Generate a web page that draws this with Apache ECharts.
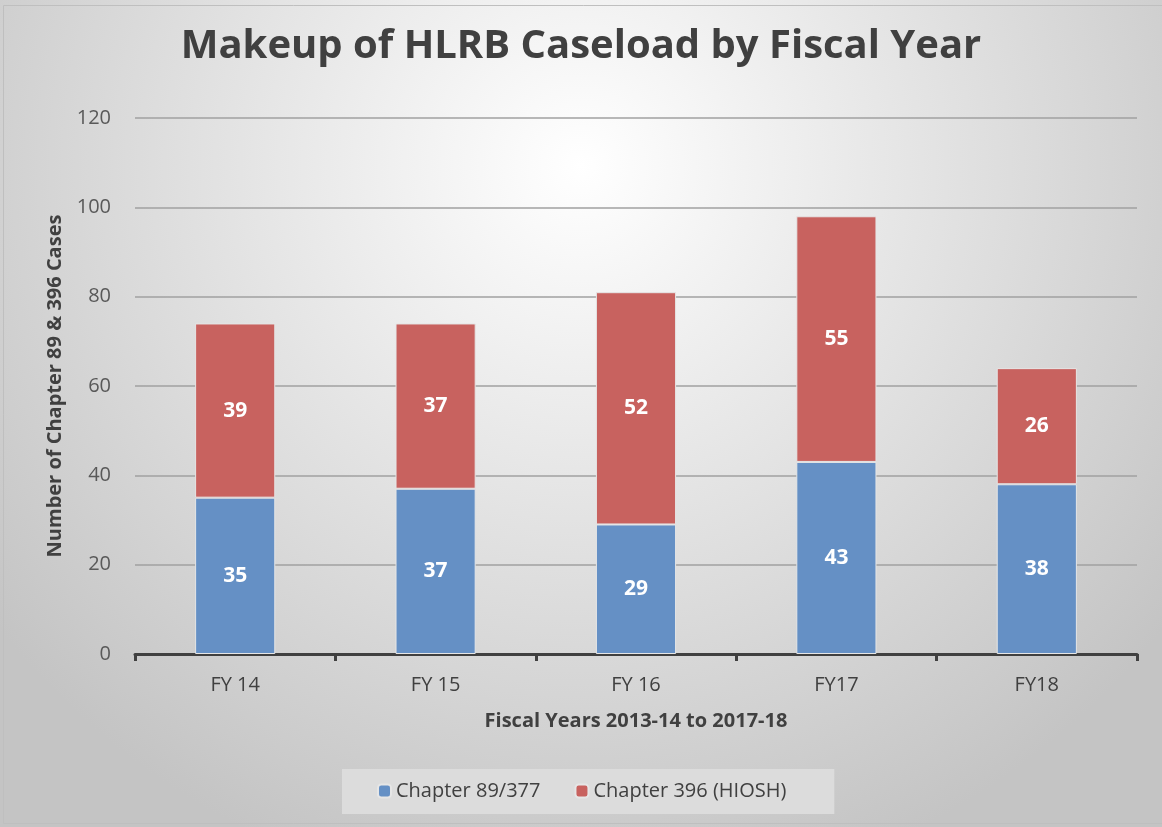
<!DOCTYPE html>
<html>
<head>
<meta charset="utf-8">
<script src="https://cdn.jsdelivr.net/npm/echarts@6/dist/echarts.min.js"></script>
<style>
html,body{margin:0;padding:0;background:#fff;}
#c{width:1162px;height:827px;}
</style>
</head>
<body>
<div id="c"></div>
<script>
var categories = ['FY 14', 'FY 15', 'FY 16', 'FY17', 'FY18'];
var chapter89 = [35, 37, 29, 43, 38];
var chapter396 = [39, 37, 52, 55, 26];
var yTicks = [0, 20, 40, 60, 80, 100, 120];

var chart = echarts.init(document.getElementById('c'));
var font = '"Open Sans", "DejaVu Sans", sans-serif';
chart.setOption({
  backgroundColor: {
    type: 'radial', x: 0.5, y: 0.2, r: 0.9,
    colorStops: [
      {offset: 0, color: '#ffffff'},
      {offset: 1, color: '#c4c4c4'}
    ]
  },
  title: {
    text: 'Makeup of HLRB Caseload by Fiscal Year',
    left: 'center',
    top: 22,
    textStyle: {fontFamily: font, fontSize: 40, fontWeight: 'bold', color: '#404040'}
  },
  grid: {left: 135, right: 25, top: 118, bottom: 173, containLabel: false},
  legend: {
    data: ['Chapter 89/377', 'Chapter 396 (HIOSH)'],
    left: 342, top: 769,
    backgroundColor: '#dcdcdc',
    padding: [12, 48, 13, 35],
    itemWidth: 13, itemHeight: 13, itemGap: 34,
    textStyle: {fontFamily: font, fontSize: 20, color: '#404040'}
  },
  xAxis: {
    type: 'category',
    data: categories,
    name: 'Fiscal Years 2013-14 to 2017-18',
    nameLocation: 'middle',
    nameGap: 57,
    nameTextStyle: {fontFamily: font, fontSize: 20, fontWeight: 'bold', color: '#404040'},
    axisLine: {lineStyle: {color: '#404040', width: 3}},
    axisTick: {show: true, length: 7, lineStyle: {color: '#404040', width: 3}},
    axisLabel: {fontFamily: font, fontSize: 20, color: '#404040', margin: 21}
  },
  yAxis: {
    type: 'value',
    min: yTicks[0], max: yTicks[yTicks.length - 1], interval: 20,
    name: 'Number of Chapter 89 & 396 Cases',
    nameLocation: 'middle',
    nameGap: 68,
    nameTextStyle: {fontFamily: font, fontSize: 20, fontWeight: 'bold', color: '#404040'},
    axisLine: {show: false},
    axisTick: {show: false},
    axisLabel: {fontFamily: font, fontSize: 20, color: '#595959', margin: 24},
    splitLine: {lineStyle: {color: '#a0a0a0', width: 1.5}}
  },
  series: [
    {
      name: 'Chapter 89/377', type: 'bar', stack: 'total', data: chapter89,
      barWidth: '40%',
      itemStyle: {color: '#6590c5', borderColor: '#e6e6e6', borderWidth: 1},
      label: {show: true, position: 'inside', color: '#ffffff', fontFamily: font, fontSize: 21, fontWeight: 'bold'}
    },
    {
      name: 'Chapter 396 (HIOSH)', type: 'bar', stack: 'total', data: chapter396,
      barWidth: '40%',
      itemStyle: {color: '#c8625f', borderColor: '#e6e6e6', borderWidth: 1},
      label: {show: true, position: 'inside', color: '#ffffff', fontFamily: font, fontSize: 21, fontWeight: 'bold'}
    }
  ],
  graphic: [{
    type: 'rect', shape: {x: 3.5, y: 5.5, width: 1165, height: 818},
    style: {fill: 'none', stroke: '#bfbfbf', lineWidth: 1}, silent: true
  }]
});
</script>
</body>
</html>
